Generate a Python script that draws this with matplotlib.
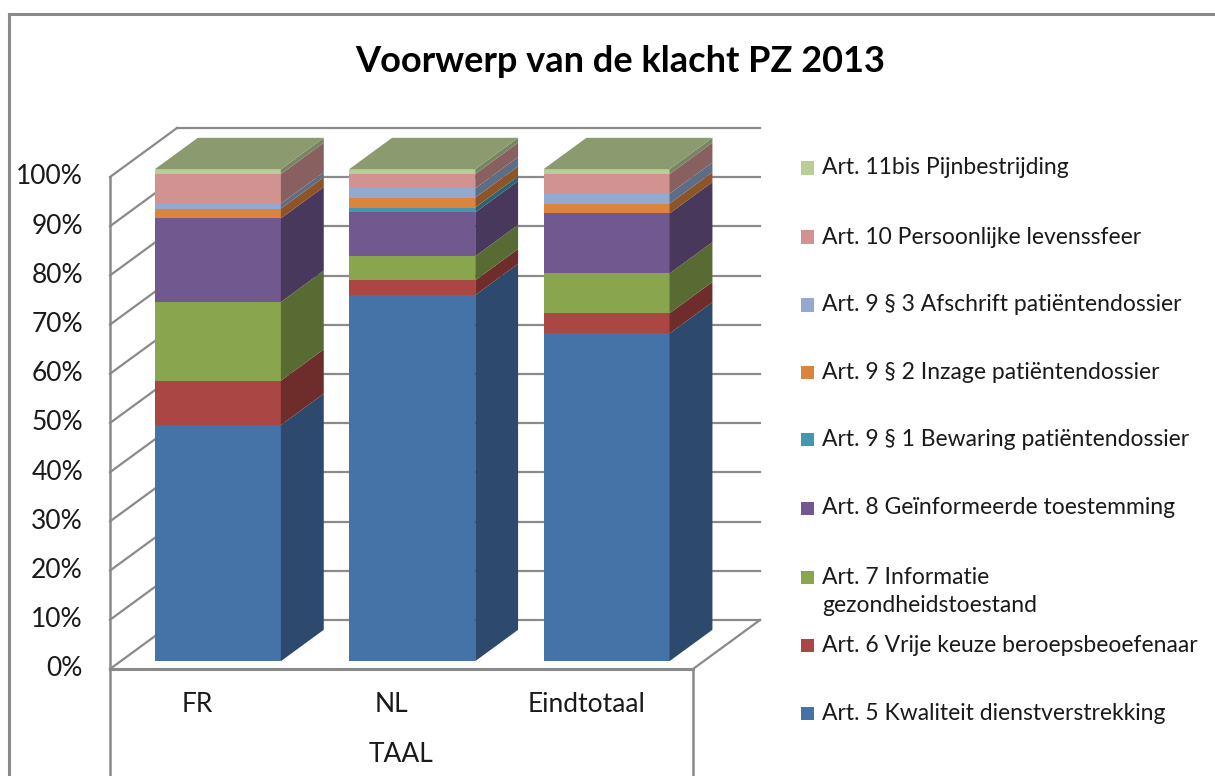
import matplotlib
matplotlib.use("Agg")
import matplotlib.pyplot as plt
from matplotlib.patches import Polygon, Rectangle
from matplotlib.lines import Line2D
import numpy as np

plt.rcParams['font.family'] = ['Lato', 'DejaVu Sans']

# ---------------- data ----------------
title = "Voorwerp van de klacht PZ 2013"
categories = ["FR", "NL", "Eindtotaal"]
axis_title = "TAAL"
series_names = [
    "Art. 5 Kwaliteit dienstverstrekking",
    "Art. 6 Vrije keuze beroepsbeoefenaar",
    "Art. 7 Informatie\ngezondheidstoestand",
    "Art. 8 Geïnformeerde toestemming",
    "Art. 9 § 1 Bewaring patiëntendossier",
    "Art. 9 § 2 Inzage patiëntendossier",
    "Art. 9 § 3 Afschrift patiëntendossier",
    "Art. 10 Persoonlijke levenssfeer",
    "Art. 11bis Pijnbestrijding",
]
# percentage share per category (FR, NL, Eindtotaal)
art5 = [48.0, 74.4, 66.6]
art6 = [9.0, 3.0, 4.1]
art7 = [16.0, 4.9, 8.1]
art8 = [17.0, 8.9, 12.2]
art9_1 = [0.0, 1.0, 0.0]
art9_2 = [2.0, 2.0, 2.0]
art9_3 = [1.0, 1.9, 2.0]
art10 = [6.0, 2.9, 4.0]
art11bis = [1.0, 1.0, 1.0]
series_values = [art5, art6, art7, art8, art9_1, art9_2, art9_3, art10, art11bis]
yticks = list(range(0, 101, 10))

# ---------------- style ----------------
front_colors = ["#4572A7", "#AA4643", "#89A54E", "#71588F", "#4198AF",
                "#DB843D", "#93A9CF", "#D19392", "#B9CD96"]
side_colors = ["#2D4A6E", "#6E2D2B", "#586B32", "#48395C", "#2A6372",
               "#8C5427", "#5E6D86", "#87605F", "#788562"]
top_color = "#8C9B6F"
grid_color = "#8A8A8A"
text_color = "#1A1A1A"

W, H = 1215, 776
fig = plt.figure(figsize=(W / 100, H / 100), dpi=100)
fig.patch.set_facecolor("white")

# layout in pixels (front plane)
X_LEFT_PX, CAT_PX, Y0_PX, PCT_PX = 110.0, 194.33, 669.0, 4.92
ncat = len(categories)

ax = fig.add_axes([0, 0, 1, 1])
ax.set_xlim(-0.5 - X_LEFT_PX / CAT_PX, -0.5 + (W - X_LEFT_PX) / CAT_PX)
ax.set_ylim((Y0_PX - H) / PCT_PX, Y0_PX / PCT_PX)
ax.axis("off")


def dx_px(px):
    return (px - X_LEFT_PX) / CAT_PX - 0.5


def dy_px(py):
    return (Y0_PX - py) / PCT_PX


DX = 67 / CAT_PX      # full depth of the box in category units
DY = 49 / PCT_PX      # full depth of the box in percent units
F_FRONT, F_BACK = 0.16, 0.80
bar_w = 126 / CAT_PX
x_lo, x_hi = -0.5, ncat - 0.5

# walls / gridlines
for v in yticks:
    ax.add_line(Line2D([x_lo + DX, x_hi + DX], [v + DY, v + DY], color=grid_color, lw=1.6, zorder=1))
    ax.add_line(Line2D([x_lo, x_lo + DX], [v, v + DY], color=grid_color, lw=1.6, zorder=1))
ax.add_line(Line2D([x_lo, x_lo], [yticks[-1], dy_px(H)], color=grid_color, lw=1.8, zorder=1))
ax.add_line(Line2D([x_lo, x_hi], [0, 0], color=grid_color, lw=2.2, zorder=1))
ax.add_line(Line2D([x_hi, x_hi + DX], [0, DY], color=grid_color, lw=1.6, zorder=1))
ax.add_line(Line2D([x_hi, x_hi], [0, dy_px(H)], color=grid_color, lw=1.8, zorder=1))

# bars
xpos = np.arange(ncat) + F_FRONT * DX
yoff = F_FRONT * DY
ddx = (F_BACK - F_FRONT) * DX
ddy = (F_BACK - F_FRONT) * DY
bottoms = np.zeros(ncat)
for vals, fc, sc in zip(series_values, front_colors, side_colors):
    vals = np.array(vals)
    ax.bar(xpos, vals, width=bar_w, bottom=bottoms + yoff, color=fc,
           edgecolor="none", zorder=3)
    for i in range(ncat):
        if vals[i] <= 0:
            continue
        xr = xpos[i] + bar_w / 2
        b = bottoms[i] + yoff
        t = b + vals[i]
        ax.add_patch(Polygon([(xr, b), (xr + ddx, b + ddy), (xr + ddx, t + ddy), (xr, t)],
                             closed=True, facecolor=sc, edgecolor="none", zorder=3))
    bottoms = bottoms + vals

for i in range(ncat):
    xl = xpos[i] - bar_w / 2
    xr = xpos[i] + bar_w / 2
    T = bottoms[i] + yoff
    ax.add_patch(Polygon([(xl, T), (xl + ddx, T + ddy), (xr + ddx, T + ddy), (xr, T)],
                         closed=True, facecolor=top_color, edgecolor="none", zorder=4))

# tick labels
for v in yticks:
    ax.text(dx_px(83), v, f"{v}%", ha="right", va="center", fontsize=19, color=text_color)

for i, c in enumerate(categories):
    ax.text(i - 0.05, dy_px(705), c, ha="center", va="center", fontsize=19, color=text_color)
ax.text(1.0, dy_px(755), axis_title, ha="center", va="center", fontsize=19, color=text_color)

# title
fig.text(620 / W, 1 - 62 / H, title, ha="center", va="center", fontsize=26,
         fontweight="bold", color="#000000")

# legend (manual, top to bottom reversed order)
legend_y = [713, 645, 577, 508, 440, 372, 305, 237, 168]
for name, fc, ly in zip(series_names, front_colors, legend_y):
    fig.patches.append(Rectangle((801 / W, 1 - (ly + 6.5) / H), 13 / W, 13 / H,
                                 transform=fig.transFigure, facecolor=fc, edgecolor="none"))
    lines = name.split("\n")
    for k, ln in enumerate(lines):
        fig.text(822 / W, 1 - (ly + 28 * k) / H, ln, ha="left", va="center",
                 fontsize=16.5, color=text_color)

# chart frame
fig.add_artist(Line2D([9 / W, 9 / W], [0, 1 - 14 / H], color="#8A8A8A", lw=2.2,
                      transform=fig.transFigure))
fig.add_artist(Line2D([9 / W, 1], [1 - 14 / H, 1 - 14 / H], color="#8A8A8A", lw=2.2,
                      transform=fig.transFigure))

fig.savefig("out.png", dpi=100, facecolor="white")
